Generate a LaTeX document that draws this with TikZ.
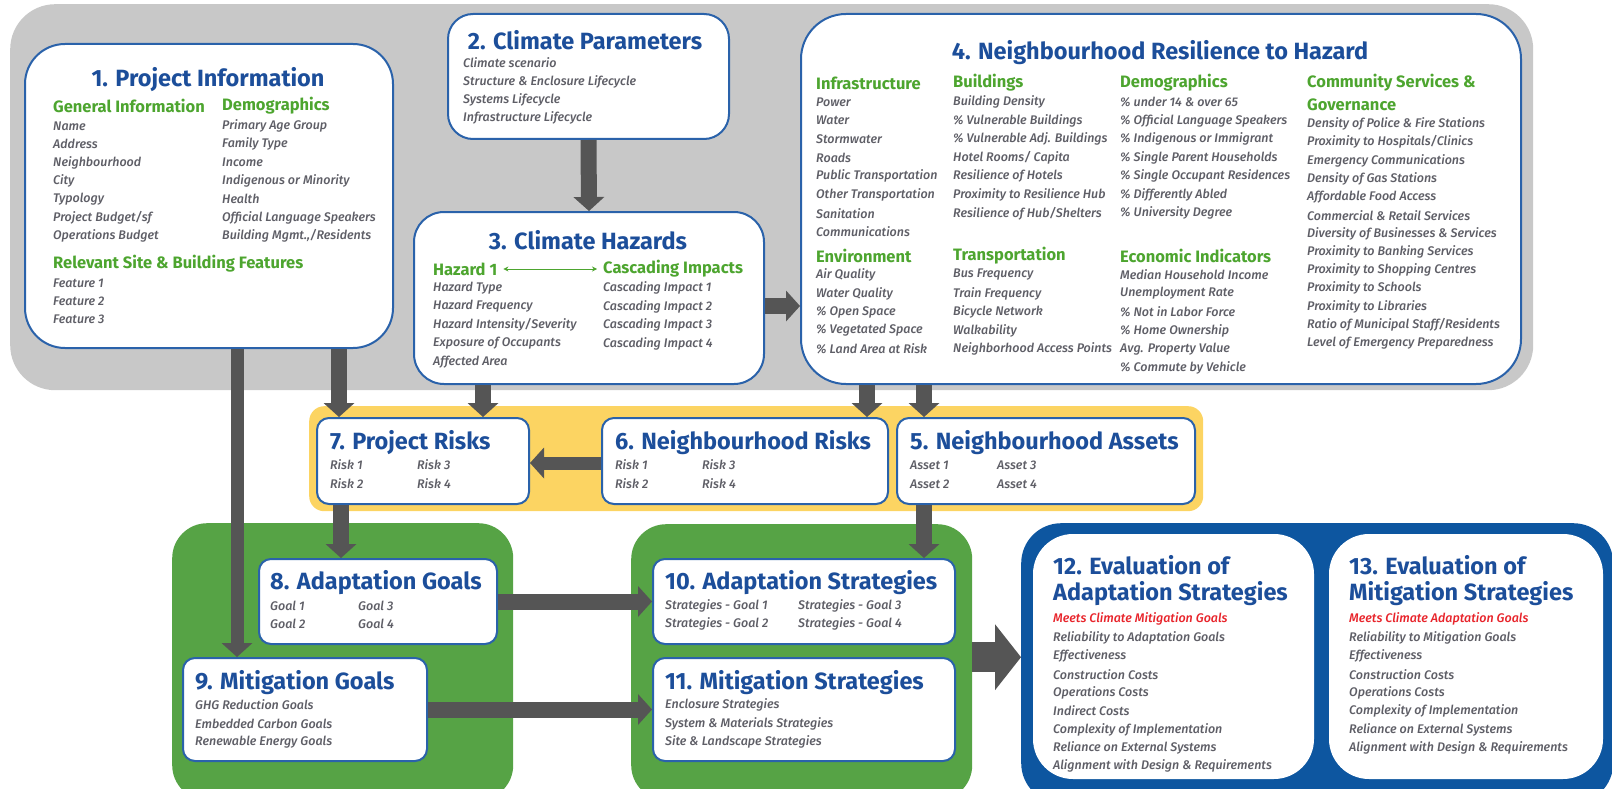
\documentclass[tikz,border=0pt]{standalone}
\usepackage{fontspec}
\setmainfont{Fira Sans}
\newfontfamily\itmface{Fira Sans Medium Italic}
\usetikzlibrary{arrows.meta}
\definecolor{bggray}{HTML}{C8C8C8}
\definecolor{bdr}{HTML}{2A62AA}
\definecolor{tblue}{HTML}{1C4E9A}
\definecolor{hgreen}{HTML}{4DA52F}
\definecolor{itemgray}{HTML}{5E5E66}
\definecolor{band}{HTML}{FCD462}
\definecolor{gblock}{HTML}{56A345}
\definecolor{bblock}{HTML}{0D56A0}
\definecolor{agray}{HTML}{555555}
\definecolor{alert}{HTML}{E8232A}

% a column of list entries: x, first y, step, name prefix, entries
\newcommand\ItemCol[5]{%
  \foreach \t [count=\k] in {#5}
    \node[itm] (#4\k) at (#1,{#2+#3*(\k-1)}) {\t};}

\begin{document}
\begin{tikzpicture}[x=1pt,y=-1pt,
  panel/.style={draw=bdr, line width=2pt, fill=white, rounded corners=#1, inner sep=0pt, anchor=north west},
  block/.style={fill=#1, inner sep=0pt, anchor=north west},
  ttl/.style={inner sep=0pt, text=tblue, font=\fontsize{23.5}{28}\selectfont\bfseries},
  hd/.style={anchor=west, inner sep=0pt, text=hgreen, font=\fontsize{16.5}{19}\selectfont\bfseries},
  itm/.style={anchor=west, inner sep=0pt, text=itemgray, font=\fontsize{12.5}{15}\selectfont\itmface},
  arr/.style={draw=agray, line width=16pt, -{Triangle[length=14pt,width=31pt,line width=0pt]}},
]
\useasboundingbox (0,0) rectangle (1612,789);

% coloured backdrops
\node[block=bggray, rounded corners=45pt, minimum width=1523pt, minimum height=386pt] (bg) at (10,4) {};
\node[block=band, rounded corners=15pt, minimum width=894pt, minimum height=105pt] (yb) at (309,406) {};
\node[block=gblock, rounded corners=35pt, minimum width=341pt, minimum height=277pt] (gL) at (172,523) {};
\node[block=gblock, rounded corners=35pt, minimum width=341pt, minimum height=276pt] (gR) at (631,524) {};
\node[block=bblock, rounded corners=40pt, minimum width=592pt, minimum height=280pt] (bl) at (1021,523) {};

% panels
\node[panel=40pt, minimum width=368pt, minimum height=304pt] (n1) at (24,43) {};
\node[panel=25pt, minimum width=281pt, minimum height=125pt] (n2) at (447,13) {};
\node[panel=30pt, minimum width=350pt, minimum height=172pt] (n3) at (413,211) {};
\node[panel=45pt, minimum width=720pt, minimum height=370pt] (n4) at (800,13) {};
\node[panel=12pt, minimum width=212pt, minimum height=86pt] (n7) at (316,417) {};
\node[panel=12pt, minimum width=286pt, minimum height=86pt] (n6) at (601,417) {};
\node[panel=12pt, minimum width=298pt, minimum height=86pt] (n5) at (896,417) {};
\node[panel=12pt, minimum width=238pt, minimum height=85pt] (n8) at (258,558) {};
\node[panel=12pt, minimum width=244pt, minimum height=103pt] (n9) at (182,657) {};
\node[panel=12pt, minimum width=302pt, minimum height=85pt] (n10) at (652,558) {};
\node[panel=12pt, minimum width=302pt, minimum height=103pt] (n11) at (652,657) {};
\node[panel=40pt, draw=none, minimum width=281pt, minimum height=245pt] (n12) at (1032,533) {};
\node[panel=40pt, draw=none, minimum width=274pt, minimum height=245pt] (n13) at (1328,533) {};

% 1. Project Information
\node[ttl] (t1) at (208,80) {1. Project Information};
\node[hd] (h1a) at (53,106) {General Information};
\node[hd] (h1b) at (222,106) {Demographics};
\ItemCol{53}{126}{18.3}{pa}{Name, Address, Neighbourhood, City, Typology, Project Budget/sf, Operations Budget}
\ItemCol{222}{126}{18.3}{pb}{Primary Age Group, Family Type, Income, Indigenous or Minority, Health, Official Language Speakers, {Building Mgmt.,/Residents}}
\node[hd] (h1c) at (53,264) {Relevant Site \& Building Features};
\ItemCol{53}{283}{18.1}{pc}{Feature 1, Feature 2, Feature 3}

% 2. Climate Parameters
\node[ttl] (t2) at (585,40) {2. Climate Parameters};
\ItemCol{463}{63}{18.4}{cp}{Climate scenario, Structure \& Enclosure Lifecycle, Systems Lifecycle, Infrastructure Lifecycle}

% 3. Climate Hazards
\node[ttl] (t3) at (588,240) {3. Climate Hazards};
\node[hd] (hz) at (433,269) {Hazard 1};
\node[hd] (ci) at (603,269) {Cascading Impacts};
\draw[hgreen, line width=0.9pt, shorten <=6pt, shorten >=6pt, {Stealth[length=5pt,width=5pt]}-{Stealth[length=5pt,width=5pt]}] (hz.east) -- (ci.west);
\ItemCol{433}{288}{18.5}{ha}{Hazard Type, Hazard Frequency, Hazard Intensity/Severity, Exposure of Occupants, Affected Area}
\ItemCol{603}{288}{18.5}{hb}{Cascading Impact 1, Cascading Impact 2, Cascading Impact 3, Cascading Impact 4}

% 4. Neighbourhood Resilience to Hazard
\node[ttl] (t4) at (1160,53) {4. Neighbourhood Resilience to Hazard};
\node[hd] (h4a) at (816,83) {Infrastructure};
\ItemCol{816}{102}{18.55}{ra}{Power, Water, Stormwater, Roads, Public Transportation, Other Transportation, Sanitation, Communications}
\node[hd] (h4b) at (816,256) {Environment};
\ItemCol{816}{275}{18.5}{rb}{Air Quality, Water Quality, \% Open Space, \% Vegetated Space, \% Land Area at Risk}
\node[hd] (h4c) at (953,83) {Buildings};
\ItemCol{953}{102}{18.55}{rc}{Building Density, \% Vulnerable Buildings, \% Vulnerable Adj. Buildings, Hotel Rooms/ Capita, Resilience of Hotels, Proximity to Resilience Hub, Resilience of Hub/Shelters}
\node[hd] (h4d) at (953,256) {Transportation};
\ItemCol{953}{275}{18.5}{rd}{Bus Frequency, Train Frequency, Bicycle Network, Walkability, Neighborhood Access Points}
\node[hd] (h4e) at (1120,83) {Demographics};
\ItemCol{1120}{102}{18.55}{re}{\% under 14 \& over 65, \% Official Language Speakers, \% Indigenous or Immigrant, \% Single Parent Households, \% Single Occupant Residences, \% Differently Abled, \% University Degree}
\node[hd] (h4f) at (1120,256) {Economic Indicators};
\ItemCol{1120}{275}{18.5}{rf}{Median Household Income, Unemployment Rate, \% Not in Labor Force, \% Home Ownership, Avg. Property Value, \% Commute by Vehicle}
\node[hd] (h4g) at (1307,83) {Community Services \&};
\node[hd] (h4h) at (1307,105) {Governance};
\ItemCol{1307}{124}{18.25}{rg}{Density of Police \& Fire Stations, Proximity to Hospitals/Clinics, Emergency Communications, Density of Gas Stations, Affordable Food Access, Commercial \& Retail Services, Diversity of Businesses \& Services, Proximity to Banking Services, Proximity to Shopping Centres, Proximity to Schools, Proximity to Libraries, Ratio of Municipal Staff/Residents, Level of Emergency Preparedness}

% 7, 6, 5
\node[ttl, anchor=west] (t7) at (330,443) {7. Project Risks};
\ItemCol{330}{465}{19}{ka}{Risk 1, Risk 2}
\ItemCol{417}{465}{19}{kb}{Risk 3, Risk 4}
\node[ttl, anchor=west] (t6) at (615,443) {6. Neighbourhood Risks};
\ItemCol{615}{465}{19}{kc}{Risk 1, Risk 2}
\ItemCol{702}{465}{19}{kd}{Risk 3, Risk 4}
\node[ttl, anchor=west] (t5) at (910,443) {5. Neighbourhood Assets};
\ItemCol{910}{465}{19}{sa}{Asset 1, Asset 2}
\ItemCol{997}{465}{19}{sb}{Asset 3, Asset 4}

% 8 - 11
\node[ttl, anchor=west] (t8) at (270,583) {8. Adaptation Goals};
\ItemCol{270}{606}{17.5}{ga}{Goal 1, Goal 2}
\ItemCol{358}{606}{17.5}{gb}{Goal 3, Goal 4}
\node[ttl, anchor=west] (t9) at (195,683) {9. Mitigation Goals};
\ItemCol{195}{705}{18.5}{gc}{GHG Reduction Goals, Embedded Carbon Goals, Renewable Energy Goals}
\node[ttl, anchor=west] (t10) at (665,583) {10. Adaptation Strategies};
\ItemCol{665}{606}{17.5}{sc}{Strategies - Goal 1, Strategies - Goal 2}
\ItemCol{798}{606}{17.5}{sd}{Strategies - Goal 3, Strategies - Goal 4}
\node[ttl, anchor=west] (t11) at (665,683) {11. Mitigation Strategies};
\ItemCol{665}{705}{18.5}{se}{Enclosure Strategies, System \& Materials Strategies, Site \& Landscape Strategies}

% 12, 13
\node[ttl, anchor=west] (t12a) at (1053,565) {12. Evaluation of};
\node[ttl, anchor=west] (t12b) at (1053,594) {Adaptation Strategies};
\node[itm, text=alert] (e12) at (1053,619) {Meets Climate Mitigation Goals};
\ItemCol{1053}{637.4}{18.4}{ea}{Reliability to Adaptation Goals, Effectiveness, Construction Costs, Operations Costs, Indirect Costs, Complexity of Implementation, Reliance on External Systems, Alignment with Design \& Requirements}
\node[ttl, anchor=west] (t13a) at (1349,565) {13. Evaluation of};
\node[ttl, anchor=west] (t13b) at (1349,594) {Mitigation Strategies};
\node[itm, text=alert] (e13) at (1349,619) {Meets Climate Adaptation Goals};
\ItemCol{1349}{637.4}{18.4}{eb}{Reliability to Mitigation Goals, Effectiveness, Construction Costs, Operations Costs, Complexity of Implementation, Reliance on External Systems, Alignment with Design \& Requirements}

% connectors
\draw[arr] (n2.south) -- (n3.north);
\draw[arr] ([yshift=-8pt]n3.east) -- ([yshift=-8pt]n3.east -| n4.west);
\draw[arr, line width=13pt] ([xshift=28pt]n1.south) -- ([xshift=28pt]n1.south |- n9.north);
\draw[arr] ([xshift=130pt]n1.south) -- ([xshift=130pt]n1.south |- n7.north);
\draw[arr] ([xshift=-106pt]n3.south) -- ([xshift=-106pt]n3.south |- n7.north);
\draw[arr] ([xshift=-294pt]n4.south) -- ([xshift=-294pt]n4.south |- n6.north);
\draw[arr] ([xshift=-237pt]n4.south) -- ([xshift=-237pt]n4.south |- n5.north);
\draw[arr, line width=13pt] ([yshift=-2pt]n6.west) -- ([yshift=-2pt]n6.west -| n7.east);
\draw[arr] ([xshift=-82pt]n7.south) -- ([xshift=-82pt]n7.south |- n8.north);
\draw[arr] ([xshift=-122pt]n5.south) -- ([xshift=-122pt]n5.south |- n10.north);
\draw[arr] (n8.east) -- (n8.east -| n10.west);
\draw[arr] (n9.east) -- (n9.east -| n11.west);
\draw[draw=agray, line width=30pt, -{Triangle[length=26pt,width=66pt,line width=0pt]}] ([yshift=5pt]gR.east) -- ([yshift=5pt]gR.east -| bl.west);
\end{tikzpicture}
\end{document}
